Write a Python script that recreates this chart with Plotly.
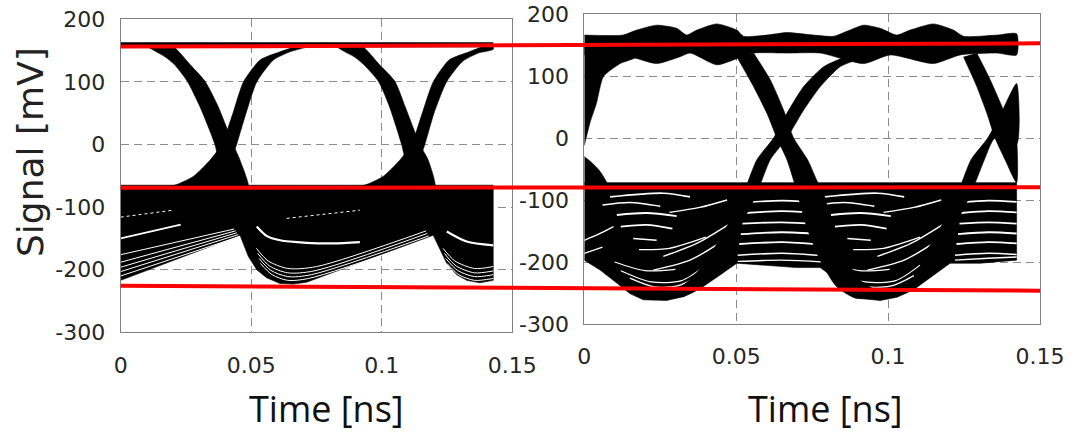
import plotly.graph_objects as go

# ---------------- axis ticks ----------------
X_TICKS = [0, 0.05, 0.1, 0.15]
X_TICK_TEXT = ["0", "0.05", "0.1", "0.15"]
Y_TICKS = [-300, -200, -100, 0, 100, 200]
Y_TICK_TEXT = ["-300", "-200", "-100", "0", "100", "200"]
X_TITLE = "Time [ns]"
Y_TITLE = "Signal [mV]"

# ---------------- left eye diagram (time ns, signal mV) ----------------
L_RAIL_T = [0.0, 0.1427]
L_RAIL_V = [159.5, 159.5]

L_FALL1_T = [0.0095, 0.0128, 0.0170, 0.0205, 0.0255, 0.0304, 0.0361, 0.0374, 0.0393, 0.0400,
             0.0489, 0.0457, 0.0431, 0.0374, 0.0323, 0.0265, 0.0230, 0.0200]
L_FALL1_V = [158, 150, 140, 128, 101, 60, 0, -25, -57, -70,
             -70, -25, 0, 60, 101, 128, 145, 158]

L_RISE1_T = [0.0151, 0.0214, 0.0278, 0.0342, 0.0387, 0.0430, 0.0470, 0.0534, 0.0610, 0.0687,
             0.0730, 0.0648, 0.0585, 0.0521, 0.0480, 0.0444, 0.0420, 0.0400]
L_RISE1_V = [-70, -64, -51, -25, 0, 50, 100, 135, 148, 158,
             158, 148, 135, 100, 50, 0, -30, -70]

L_FALL2_T = [0.0820, 0.0850, 0.0895, 0.0930, 0.0987, 0.1030, 0.1076, 0.1090, 0.1108, 0.1115,
             0.1204, 0.1178, 0.1146, 0.1090, 0.1050, 0.0990, 0.0955, 0.0925]
L_FALL2_V = [158, 150, 140, 128, 101, 60, 0, -25, -57, -70,
             -70, -25, 0, 60, 101, 128, 145, 158]

L_RISE2_T = [0.0878, 0.0941, 0.1005, 0.1069, 0.1114, 0.1155, 0.1197, 0.1258, 0.1335, 0.1400,
             0.1427, 0.1427, 0.1370, 0.1310, 0.1248, 0.1200, 0.1165, 0.1140, 0.1120]
L_RISE2_V = [-70, -64, -51, -25, 0, 50, 100, 135, 148, 158,
             158, 152, 146, 133, 100, 50, 0, -30, -70]

L_LOW_T = [0.0, 0.1427, 0.1427, 0.1376, 0.1325, 0.1287, 0.1249, 0.1197, 0.0712, 0.0661,
           0.0610, 0.0559, 0.0521, 0.0489, 0.0457, 0.0]
L_LOW_V = [-65, -65, -217, -221, -217, -208, -190, -145, -220, -223,
           -222, -213, -200, -179, -145, -217]

# white gaps between the traces of the lower rail (t list, v list, width)
L_GAPS = [
    ([0.0, 0.0230], [-150, -128], 1.6),
    ([0.0, 0.0455], [-210, -147], 1.0),
    ([0.0, 0.0450], [-203, -144], 1.0),
    ([0.0, 0.0445], [-196, -141], 1.0),
    ([0.0, 0.0440], [-188, -138], 1.0),
    ([0.0, 0.0435], [-176, -135], 1.0),
    ([0.0521, 0.0559, 0.0610, 0.0712, 0.0814, 0.0916], [-131, -146, -153, -157, -158, -156], 2.2),
    ([0.1249, 0.1325, 0.1427], [-139, -155, -161], 2.2),
    ([0.0535, 0.0580, 0.0640, 0.0720, 0.1185], [-190, -208, -217, -214, -150], 1.0),
    ([0.0530, 0.0575, 0.0640, 0.0730, 0.1180], [-182, -201, -211, -208, -146], 1.0),
    ([0.0525, 0.0570, 0.0640, 0.0740, 0.1175], [-174, -194, -205, -202, -142], 1.0),
    ([0.0520, 0.0565, 0.0640, 0.0750, 0.1170], [-166, -186, -198, -195, -138], 1.0),
    ([0.1250, 0.1295, 0.1355, 0.1427], [-190, -208, -217, -214], 1.0),
    ([0.1245, 0.1290, 0.1355, 0.1427], [-182, -201, -211, -208], 1.0),
    ([0.1240, 0.1285, 0.1355, 0.1427], [-174, -194, -205, -202], 1.0),
    ([0.1235, 0.1280, 0.1355, 0.1427], [-166, -186, -198, -195], 1.0),
]
L_DOTS = [
    ([0.0, 0.0200], [-116, -105]),
    ([0.0636, 0.0916], [-118, -105]),
]

# ---------------- right eye diagram ----------------
R_TOP_T = [0.0, 0.0128, 0.0172, 0.0238, 0.0304, 0.0337, 0.0370, 0.0436, 0.0502, 0.0524,
           0.0601, 0.0667, 0.0755, 0.0821, 0.0864, 0.0919, 0.0974, 0.1029, 0.1072, 0.1149,
           0.1215, 0.1248, 0.1358, 0.1423,
           0.1423, 0.1358, 0.1237, 0.1149, 0.1007, 0.0919, 0.0777, 0.0667, 0.0557, 0.0502,
           0.0436, 0.0348, 0.0315, 0.0238, 0.0150, 0.0]
R_TOP_V = [166, 166, 174, 182, 177, 166, 174, 184, 174, 164,
           166, 170, 166, 164, 172, 182, 177, 166, 174, 184,
           174, 164, 166, 168,
           134, 137, 134, 120, 134, 120, 137, 137, 137, 128,
           118, 137, 131, 120, 131, 134]

R_RISE0_T = [0.0, 0.0019, 0.0040, 0.0063, 0.0118, 0.0172, 0.0172, 0.0]
R_RISE0_V = [-12, 25, 56, 99, 120, 131, 150, 150]

R_FALL0_T = [0.0, 0.0025, 0.0049, 0.0075, 0.0]
R_FALL0_V = [-30, -40, -52, -75, -75]

R_FALL1_T = [0.0502, 0.0557, 0.0601, 0.0634, 0.0667, 0.0695, 0.0732, 0.0776, 0.0831, 0.0897,
             0.0974, 0.0919, 0.0864, 0.0820, 0.0787, 0.0765, 0.0735, 0.0689, 0.0656, 0.0612, 0.0557]
R_FALL1_V = [131, 83, 40, 0, -35, -78, -143, -197, -240, -259,
             -250, -234, -197, -143, -89, -68, -35, 0, 45, 94, 137]

R_RISE1_T = [0.0290, 0.0350, 0.0403, 0.0469, 0.0524, 0.0568, 0.0623, 0.0667, 0.0722, 0.0788,
             0.0864, 0.0919, 0.0842, 0.0777, 0.0722, 0.0667, 0.0612, 0.0568, 0.0513, 0.0447,
             0.0381, 0.0326]
R_RISE1_V = [-250, -228, -197, -143, -89, -35, 0, 40, 83, 115,
             131, 131, 115, 83, 45, 0, -35, -89, -143, -197,
             -242, -256]

R_FALL2_T = [0.1248, 0.1292, 0.1325, 0.1352, 0.1385, 0.1423, 0.1423, 0.1412, 0.1380, 0.1336, 0.1292]
R_FALL2_V = [131, 83, 40, 0, -35, -72, -5, 8, 45, 94, 137]

R_RISE2_T = [0.1108, 0.1174, 0.1229, 0.1273, 0.1328, 0.1372, 0.1423, 0.1423, 0.1352, 0.1317,
             0.1273, 0.1218, 0.1152]
R_RISE2_V = [-197, -143, -89, -35, 0, 40, 88, -10, 0, -35,
             -89, -143, -197]

R_LOW_T = [0.0, 0.1423, 0.1423, 0.1303, 0.1204, 0.1149, 0.1083, 0.1029, 0.0974, 0.0908,
           0.0864, 0.0820, 0.0776, 0.0699, 0.0601, 0.0502, 0.0447, 0.0381, 0.0326, 0.0271,
           0.0194, 0.0150, 0.0107, 0.0052, 0.0]
R_LOW_V = [-72, -72, -197, -202, -202, -221, -245, -257, -262, -259,
           -245, -224, -209, -209, -206, -202, -221, -243, -256, -262,
           -261, -251, -234, -213, -197]

R_GAPS = [
    # inside the first U
    ([0.0060, 0.0150, 0.0250], [-108, -104, -110], 1.6),
    ([0.0085, 0.0260, 0.0348], [-95, -89, -95], 1.6),
    ([0.0107, 0.0205, 0.0304], [-124, -121, -126], 2.0),
    ([0.0120, 0.0205, 0.0290], [-143, -140, -146], 1.8),
    ([0.0161, 0.0238], [-162, -165], 1.6),
    ([0.0280, 0.0380, 0.0470], [-120, -112, -100], 1.4),
    ([0.0180, 0.0280, 0.0400], [-180, -178, -160], 1.4),
    ([0.0260, 0.0370, 0.0480], [-191, -170, -138], 1.4),
    ([0.0227, 0.0348, 0.0458], [-213, -197, -165], 1.4),
    ([0.0100, 0.0200, 0.0300], [-200, -214, -212], 1.2),
    ([0.0150, 0.0230, 0.0310, 0.0380], [-226, -240, -238, -222], 1.2),
    ([0.0120, 0.0220, 0.0320, 0.0400], [-214, -232, -230, -205], 1.2),
    ([0.0, 0.0052, 0.0096], [-165, -154, -143], 1.4),
    ([0.0, 0.0060], [-186, -176], 1.2),
    # inside the second U
    ([0.0765, 0.0855, 0.0955], [-108, -104, -110], 1.6),
    ([0.0790, 0.0965, 0.1053], [-95, -89, -95], 1.6),
    ([0.0812, 0.0910, 0.1009], [-124, -121, -126], 2.0),
    ([0.0825, 0.0910, 0.0995], [-143, -140, -146], 1.8),
    ([0.0866, 0.0943], [-162, -165], 1.6),
    ([0.0985, 0.1085, 0.1175], [-120, -112, -100], 1.4),
    ([0.0885, 0.0985, 0.1105], [-180, -178, -160], 1.4),
    ([0.0965, 0.1075, 0.1185], [-191, -170, -138], 1.4),
    ([0.0932, 0.1053, 0.1163], [-213, -197, -165], 1.4),
    ([0.0805, 0.0905, 0.1005], [-200, -214, -212], 1.2),
    ([0.0855, 0.0935, 0.1015, 0.1085], [-226, -240, -238, -222], 1.2),
    ([0.0825, 0.0925, 0.1025, 0.1105], [-214, -232, -230, -205], 1.2),
    # between the two U's
    ([0.0530, 0.0650, 0.0770], [-104, -101, -104], 1.6),
    ([0.0530, 0.0650, 0.0770], [-121, -118, -121], 1.8),
    ([0.0520, 0.0650, 0.0775], [-138, -136, -139], 1.8),
    ([0.0515, 0.0650, 0.0780], [-155, -152, -155], 1.8),
    ([0.0510, 0.0650, 0.0785], [-171, -168, -172], 1.8),
    ([0.0505, 0.0650, 0.0790], [-189, -186, -190], 1.6),
    ([0.0505, 0.0650, 0.0790], [-199, -197, -200], 1.4),
    # right end
    ([0.1240, 0.1330, 0.1423], [-104, -101, -103], 1.6),
    ([0.1240, 0.1330, 0.1423], [-121, -118, -120], 1.8),
    ([0.1235, 0.1330, 0.1423], [-138, -136, -138], 1.8),
    ([0.1230, 0.1330, 0.1423], [-155, -152, -154], 1.8),
    ([0.1225, 0.1330, 0.1423], [-171, -168, -170], 1.8),
    ([0.1220, 0.1330, 0.1423], [-189, -186, -188], 1.6),
    ([0.1220, 0.1330, 0.1423], [-197, -194, -192], 1.4),
]

# red reference levels (mV on right-panel scale) at the left and right ends
RED_LEFT_END = [147.4, -80.2, -238.2]
RED_RIGHT_END = [152.7, -79.5, -246.3]

# ---------------- layout geometry ----------------
W, H = 1085, 435
LX = [120.7 / W, 512.3 / W]
LY = [1 - 332.3 / H, 1 - 19.3 / H]
RX = [584.3 / W, 1040.0 / W]
RY = [1 - 324.0 / H, 1 - 14.0 / H]

fig = go.Figure()


def fill(t, v, xa, ya, spline=True):
    fig.add_trace(go.Scatter(
        x=t, y=v, xaxis=xa, yaxis=ya, mode="lines", fill="toself",
        fillcolor="black", line=dict(color="black", width=0.6,
                                     shape="spline" if spline else "linear", smoothing=0.6),
        hoverinfo="skip", showlegend=False))


def gap(t, v, w, xa, ya, dash="solid"):
    fig.add_trace(go.Scatter(
        x=t, y=v, xaxis=xa, yaxis=ya, mode="lines",
        line=dict(color="white", width=w, shape="spline", smoothing=0.8, dash=dash),
        hoverinfo="skip", showlegend=False))


# left panel
fill(L_LOW_T, L_LOW_V, "x", "y", spline=False)
for t, v, w in L_GAPS:
    gap(t, v, w, "x", "y")
for t, v in L_DOTS:
    gap(t, v, 1.0, "x", "y", dash="dot")
for t, v in [(L_FALL1_T, L_FALL1_V), (L_RISE1_T, L_RISE1_V),
             (L_FALL2_T, L_FALL2_V), (L_RISE2_T, L_RISE2_V)]:
    fill(t, v, "x", "y")
fig.add_trace(go.Scatter(x=L_RAIL_T, y=L_RAIL_V, xaxis="x", yaxis="y", mode="lines",
                         line=dict(color="black", width=5), hoverinfo="skip", showlegend=False))

# right panel
fill(R_LOW_T, R_LOW_V, "x2", "y2", spline=False)
for t, v, w in R_GAPS:
    gap(t, v, w, "x2", "y2")
for t, v in [(R_RISE0_T, R_RISE0_V), (R_FALL0_T, R_FALL0_V), (R_FALL1_T, R_FALL1_V),
             (R_RISE1_T, R_RISE1_V), (R_FALL2_T, R_FALL2_V), (R_RISE2_T, R_RISE2_V)]:
    fill(t, v, "x2", "y2")
fill(R_TOP_T, R_TOP_V, "x2", "y2")

tickfont = dict(family="DejaVu Sans", size=22, color="#262626")
xcommon = dict(range=[0, 0.15], tickmode="array", tickvals=X_TICKS, ticktext=X_TICK_TEXT,
               showgrid=True, gridcolor="#8c8c8c", griddash="8px,5px", gridwidth=1,
               showline=True, linecolor="#7f7f7f", linewidth=1, mirror=True,
               zeroline=False, ticks="", tickfont=tickfont, ticklabelstandoff=13,
               automargin=False)
ycommon = dict(range=[-300, 200], tickmode="array", tickvals=Y_TICKS, ticktext=Y_TICK_TEXT,
               showgrid=True, gridcolor="#8c8c8c", griddash="8px,5px", gridwidth=1,
               showline=True, linecolor="#7f7f7f", linewidth=1, mirror=True,
               zeroline=False, ticks="", tickfont=tickfont, ticklabelstandoff=10,
               automargin=False)

fig.update_layout(
    width=W, height=H, autosize=False,
    margin=dict(l=0, r=0, t=0, b=0, pad=0, autoexpand=False),
    paper_bgcolor="white", plot_bgcolor="white", showlegend=False,
    xaxis=dict(domain=LX, anchor="y", **xcommon),
    yaxis=dict(domain=LY, anchor="x", **ycommon),
    xaxis2=dict(domain=RX, anchor="y2", **xcommon),
    yaxis2=dict(domain=RY, anchor="x2", **ycommon),
)

# red reference lines spanning both panels
for y0, y1 in zip(RED_LEFT_END, RED_RIGHT_END):
    fig.add_shape(type="line", xref="paper", yref="y2", x0=LX[0], x1=RX[1], y0=y0, y1=y1,
                  line=dict(color="rgb(250,0,0)", width=4), layer="above")

# axis titles
title_font = dict(family="Open Sans", size=36, color="#111111")
fig.add_annotation(text=X_TITLE, xref="paper", yref="paper", x=326 / W, y=1 - 408 / H,
                   xanchor="center", yanchor="middle", showarrow=False, font=title_font)
fig.add_annotation(text=X_TITLE, xref="paper", yref="paper", x=826 / W, y=1 - 408 / H,
                   xanchor="center", yanchor="middle", showarrow=False, font=title_font)
fig.add_annotation(text=Y_TITLE, xref="paper", yref="paper", x=30 / W, y=1 - 152 / H,
                   xanchor="center", yanchor="middle", showarrow=False, textangle=-90,
                   font=dict(family="DejaVu Sans", size=36, color="#222222"))

fig.write_html("out.html", config={"displayModeBar": False},
               post_script="document.body.style.margin='0px';document.body.style.overflow='hidden';")
